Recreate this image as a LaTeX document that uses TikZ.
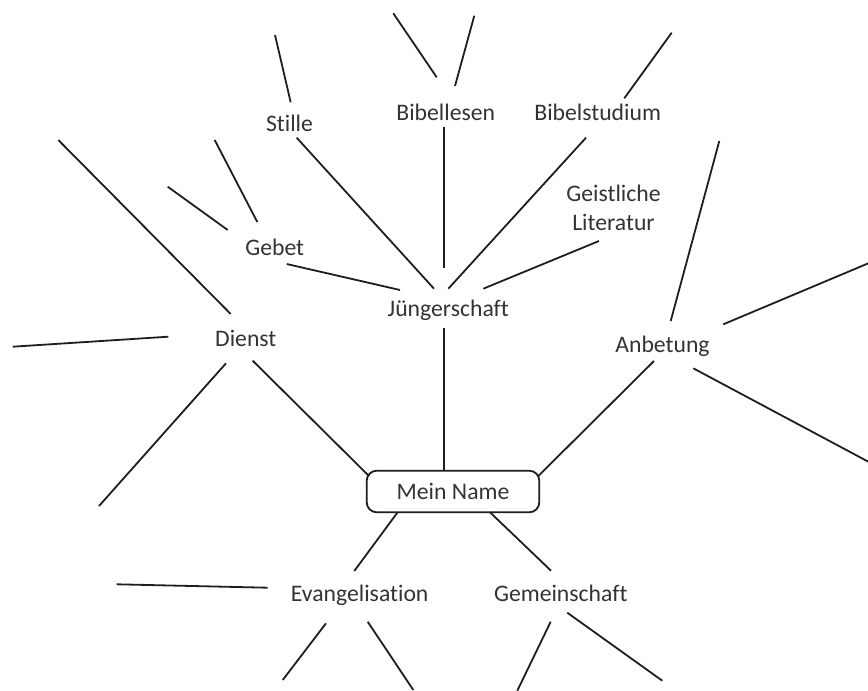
\documentclass[tikz,border=0pt]{standalone}
\usepackage{fontspec}
\setmainfont{Carlito}[Ligatures=NoCommon]
\definecolor{txtc}{HTML}{333333}
\definecolor{linec}{HTML}{1E1E1E}
\begin{document}
\begin{tikzpicture}[x=1pt,y=-1pt,
  lbl/.style={inner sep=0pt, text=txtc, font=\fontsize{23.7}{28.5}\selectfont, anchor=base},
  conn/.style={line width=1.8pt, draw=linec},
  namebox/.style={draw=linec, line width=1.8pt, rounded corners=10pt,
    minimum width=172.6pt, minimum height=41.6pt, inner sep=0pt, text=txtc,
    font=\fontsize{23.7}{28.5}\selectfont, text height=16pt, text depth=0pt}]
\useasboundingbox (0,0) rectangle (868,691);

% nodes
\node[lbl] (stille) at (289.5,131) {Stille};
\node[lbl] (bibellesen) at (445.8,120) {Bibellesen};
\node[lbl] (bibelstudium) at (597.7,120) {Bibelstudium};
\node[lbl, align=center] (geist) at (613.5,230) {Geistliche\\Literatur};
\node[lbl] (gebet) at (274.7,255.5) {Gebet};
\node[lbl] (jung) at (448.3,316.5) {Jüngerschaft};
\node[lbl] (dienst) at (245.8,346) {Dienst};
\node[lbl] (anbetung) at (662.5,352.5) {Anbetung};
\node[namebox] (mein) at (453,491.5) {Mein Name};
\node[lbl] (evang) at (359.7,601) {Evangelisation};
\node[lbl] (gemein) at (560.8,601) {Gemeinschaft};

% free ends
\coordinate (stilleF) at (275,35);
\coordinate (bibelF1) at (393.3,13.3);
\coordinate (bibelF2) at (474.3,15.7);
\coordinate (studF) at (671.7,32.7);
\coordinate (gebetF1) at (214.7,140);
\coordinate (gebetF2) at (167.7,186.7);
\coordinate (dienstF1) at (58.3,140);
\coordinate (dienstF2) at (12.7,346.7);
\coordinate (dienstF3) at (99,506);
\coordinate (anbF1) at (719.3,141);
\coordinate (anbF2) at (870,262.6);
\coordinate (anbF3) at (870,462.6);
\coordinate (evF1) at (116.7,584.3);
\coordinate (evF2) at (282.7,680);
\coordinate (evF3) at (413.3,690);
\coordinate (gmF1) at (517.3,690.7);
\coordinate (gmF2) at (662.3,680.7);

% node to node
\draw[conn] ([shift={(7.2,6.7)}]stille.base) -- ([shift={(-14.3,-27.8)}]jung.base);
\draw[conn] ([shift={(12,8.5)}]gebet.base) -- ([shift={(-48.3,-26.5)}]jung.base);
\draw[conn] ([shift={(-2.1,6.7)}]bibellesen.base) -- ([shift={(-4.6,-48.8)}]jung.base);
\draw[conn] ([shift={(-11.7,17.7)}]bibelstudium.base) -- ([shift={(0,-27.8)}]jung.base);
\draw[conn] ([shift={(-14.5,11)}]geist.base) -- ([shift={(35,-27.8)}]jung.base);
\draw[conn] ([shift={(-4.6,11.8)}]jung.base) -- ([shift={(-9.3,-20.8)}]mein.center);
\draw[conn] ([shift={(6.9,14.7)}]dienst.base) -- ([shift={(-84,-15.5)}]mein.center);
\draw[conn] ([shift={(-8.5,8.5)}]anbetung.base) -- ([shift={(85.3,-15.5)}]mein.center);
\draw[conn] ([shift={(-55.7,21.2)}]mein.center) -- ([shift={(-5.4,-30)}]evang.base);
\draw[conn] ([shift={(37,20.8)}]mein.center) -- ([shift={(-9.8,-30.3)}]gemein.base);

% free branches
\draw[conn] ([shift={(1.2,-28.7)}]stille.base) -- (stilleF);
\draw[conn] ([shift={(-9.1,-42.7)}]bibellesen.base) -- (bibelF1);
\draw[conn] ([shift={(9.2,-34)}]bibellesen.base) -- (bibelF2);
\draw[conn] ([shift={(26.6,-21.7)}]bibelstudium.base) -- (studF);
\draw[conn] ([shift={(-17.4,-33.5)}]gebet.base) -- (gebetF1);
\draw[conn] ([shift={(-47,-25.5)}]gebet.base) -- (gebetF2);
\draw[conn] ([shift={(-15.1,-32)}]dienst.base) -- (dienstF1);
\draw[conn] ([shift={(-77.5,-9.3)}]dienst.base) -- (dienstF2);
\draw[conn] ([shift={(-19.8,17.3)}]dienst.base) -- (dienstF3);
\draw[conn] ([shift={(8.2,-31.5)}]anbetung.base) -- (anbF1);
\draw[conn] ([shift={(60.8,-28.2)}]anbetung.base) -- (anbF2);
\draw[conn] ([shift={(30.8,15.8)}]anbetung.base) -- (anbF3);
\draw[conn] ([shift={(-92,-13.3)}]evang.base) -- (evF1);
\draw[conn] ([shift={(-33.7,22.3)}]evang.base) -- (evF2);
\draw[conn] ([shift={(8,20.7)}]evang.base) -- (evF3);
\draw[conn] ([shift={(-10.1,20.7)}]gemein.base) -- (gmF1);
\draw[conn] ([shift={(6.5,11.7)}]gemein.base) -- (gmF2);
\end{tikzpicture}
\end{document}
